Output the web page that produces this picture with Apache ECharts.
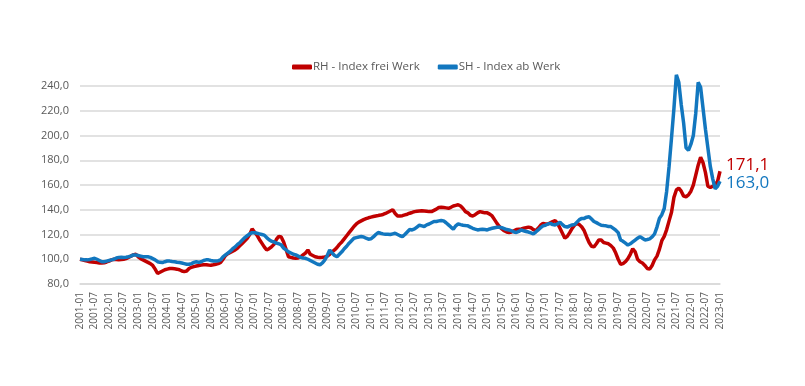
<!DOCTYPE html>
<html>
<head>
<meta charset="utf-8">
<script src="https://cdn.jsdelivr.net/npm/echarts@6/dist/echarts.min.js"></script>
<style>html,body{margin:0;padding:0;background:#fff;}#c{width:805px;height:386px;}</style>
</head>
<body>
<div id="c"></div>
<script>
// monthly categories 2001-01 .. 2023-01
var categories = [];
for (var y = 2001; y <= 2023; y++) {
  for (var mo = 1; mo <= 12; mo++) {
    if (y === 2023 && mo > 1) break;
    categories.push(y + '-' + (mo < 10 ? '0' + mo : mo));
  }
}
var seriesNames = ['RH - Index frei Werk', 'SH - Index ab Werk'];
var yTicks = [80, 100, 120, 140, 160, 180, 200, 220, 240];

var rhValues = [
  100, 99.5, 99, 98.5, 98, 97.8, 97.5, 97.3, 97, 97, 97.2, 97.8,
  98.5, 99.5, 100, 99.8, 99.5, 99.7, 100, 100.5, 101.5, 102.5, 103.5, 104,
  102, 100.5, 99.5, 98.5, 97.5, 96.5, 95, 92, 88.5, 89.5, 90.5, 91.5,
  92, 92.5, 92.5, 92.3, 92, 91.5, 90.5, 90, 90.5, 92.5, 93.5, 94,
  94.5, 95, 95.3, 95.5, 95.5, 95.3, 95.2, 95.5, 96, 96.5, 97.5, 100,
  103, 104.5, 105.5, 106.5, 107.5, 109, 111, 113, 115, 117, 120, 124.5,
  122, 119.5, 116, 113, 110, 107.5, 108.5, 110, 112, 116, 118.5, 118,
  114, 108, 102, 101.5, 101, 100.8, 101, 102, 103.5, 105, 107.5, 104,
  103, 102, 101.6, 101.5, 101.6, 101.8, 102.5, 104, 106, 107.5, 109.5, 112,
  114, 116.5, 119, 121.5, 124, 126.5, 128.5, 130, 131, 132, 132.8, 133.5,
  134, 134.5, 135, 135.3, 135.7, 136.2, 137, 138, 139, 140, 137, 135,
  135, 135.2, 135.8, 136.4, 137.2, 137.8, 138.5, 138.8, 139, 139.2, 139, 138.8,
  138.5, 138.5, 139.5, 140.5, 141.8, 142, 141.8, 141.5, 141.2, 142, 143, 143.5,
  144, 143, 141, 138.5, 137.5, 135.5, 135, 136, 137.5, 138.5, 138, 137.5,
  137.5, 136.5, 135, 132, 129, 126.5, 124.5, 123, 122, 121.6, 122, 123,
  124, 124.3, 124.5, 125, 125.5, 126, 125.5, 124, 123, 125, 127.5, 129,
  128.5, 128.5, 129.5, 130.5, 131.3, 129, 125, 121, 117, 118.5, 121.5, 125,
  127.5, 129, 128, 126, 123, 118, 113.5, 110.5, 110, 112.5, 115.5, 115.5,
  113.5, 113, 112.5, 111, 109, 105, 100, 96, 96.5, 98, 100.5, 104,
  108.5, 106, 100, 98, 97, 95, 92.5, 92, 95, 99.5, 102.5, 108,
  115, 118.5, 124, 131, 138, 150, 156, 157.5, 155, 151, 150.5, 152,
  155, 160, 168, 176, 182.5, 178, 170, 159, 158, 159, 160, 163,
  171.1
];

var shValues = [
  100, 99.8, 99.5, 99.5, 99.8, 100.3, 100.8, 100, 99, 98, 98, 98.5,
  99, 99.5, 100, 101, 101.5, 101.6, 101.4, 101.6, 102, 102.5, 103.5, 103.5,
  103, 102.5, 102, 102, 102, 101.5, 100.5, 99.5, 98, 97.5, 97.3, 98,
  98.6, 98.5, 98.2, 98, 97.6, 97.3, 97, 96.5, 96, 96, 96.5, 97.5,
  98, 97.5, 98, 99, 99.5, 99.5, 99, 98.6, 98.6, 98.8, 99.5, 102,
  103.5, 105, 106.5, 108.5, 110, 112, 113.5, 115.5, 117.5, 119, 120.5, 121.5,
  121.5, 121, 120.5, 120, 119.5, 117.5, 115.7, 114.5, 114, 113, 112.5, 111.6,
  109, 107.5, 106, 105, 104, 103.5, 102.5, 101.5, 101, 100.8, 100, 99,
  98, 97, 96, 95.5, 97, 99.5, 103, 107.5, 105, 103, 102, 104,
  106, 108.5, 110.5, 113, 115, 117, 117.5, 118, 118.3, 118, 117, 116.2,
  116.5, 118, 120, 121.6, 121, 120.5, 120.2, 120.2, 120, 120.5, 121, 120,
  119, 118.3, 120, 122, 124, 123.7, 124.5, 126, 127.5, 127, 126.5, 127.8,
  128.5, 129.5, 130.5, 130.5, 131, 131.3, 131, 129.5, 127.8, 126, 124.3, 127,
  128.6, 128, 127.5, 127.2, 127, 126, 125, 124.3, 123.7, 124, 124.3, 124,
  123.7, 124.5, 125, 125.5, 125.8, 125.9, 125.5, 124.8, 124, 123.7, 123, 122,
  121.6, 122.5, 123.7, 123, 122.4, 122, 121.3, 120.5, 122, 123.7, 125.5, 127,
  127.5, 128.5, 129, 128, 127.7, 128.5, 130, 128, 126.4, 126, 127, 127.7,
  128, 130, 132, 133, 133, 134, 134.4, 132.5, 130.5, 129.6, 128.5, 127.5,
  127.2, 127, 126.5, 126.4, 125, 123.5, 121.5, 115.6, 114.5, 113, 111.5, 112.5,
  114, 115.5, 117, 118.3, 117, 115.6, 116, 116.5, 118, 120.4, 126, 133,
  136, 141, 155, 175, 198, 222, 249, 243, 225, 210, 190, 188,
  193, 200, 218, 243, 239, 222, 205, 190, 175, 165, 157, 159,
  163
];

var fmt = function (v) { return v.toFixed(1).replace('.', ','); };
var font = '"Open Sans", "Noto Sans", sans-serif';

var chart = echarts.init(document.getElementById('c'));
chart.setOption({
  animation: false,
  backgroundColor: '#ffffff',
  textStyle: { fontFamily: font },
  legend: {
    top: 56,
    left: 287,
    itemGap: 18,
    itemWidth: 20,
    itemHeight: 5,
    icon: 'roundRect',
    textStyle: { color: '#595959', fontSize: 11.5, fontFamily: font, padding: [0, 0, 0, -4] },
    data: seriesNames
  },
  grid: { left: 80, right: 85, top: 86, bottom: 102, containLabel: false },
  xAxis: {
    type: 'category',
    boundaryGap: false,
    data: categories,
    axisLine: { show: true, lineStyle: { color: '#d9d9d9', width: 1.5 } },
    axisTick: { show: false },
    axisLabel: {
      interval: 5,
      rotate: 90,
      color: '#595959',
      fontSize: 10,
      margin: 8,
      fontFamily: font
    },
    splitLine: { show: false }
  },
  yAxis: {
    type: 'value',
    min: yTicks[0],
    max: yTicks[yTicks.length - 1],
    interval: 20,
    axisLine: { show: false },
    axisTick: { show: false },
    axisLabel: { color: '#595959', fontSize: 11, margin: 11, formatter: fmt, fontFamily: font },
    splitLine: { lineStyle: { color: '#d9d9d9', width: 1.5 } }
  },
  series: [
    {
      name: seriesNames[0],
      type: 'line',
      data: rhValues,
      symbol: 'none',
      clip: false,
      color: '#C00000',
      lineStyle: { width: 3.5, color: '#C00000' },
      z: 3,
      endLabel: {
        show: true,
        formatter: function (p) { return fmt(p.value); },
        color: '#C00000',
        fontSize: 17,
        fontFamily: font,
        offset: [0, -6],
        distance: 6
      }
    },
    {
      name: seriesNames[1],
      type: 'line',
      data: shValues,
      symbol: 'none',
      clip: false,
      color: '#1277BF',
      lineStyle: { width: 3.5, color: '#1277BF' },
      z: 4,
      endLabel: {
        show: true,
        formatter: function (p) { return fmt(p.value); },
        color: '#1277BF',
        fontSize: 17,
        fontFamily: font,
        offset: [0, 2],
        distance: 6
      }
    }
  ]
});
</script>
</body>
</html>
